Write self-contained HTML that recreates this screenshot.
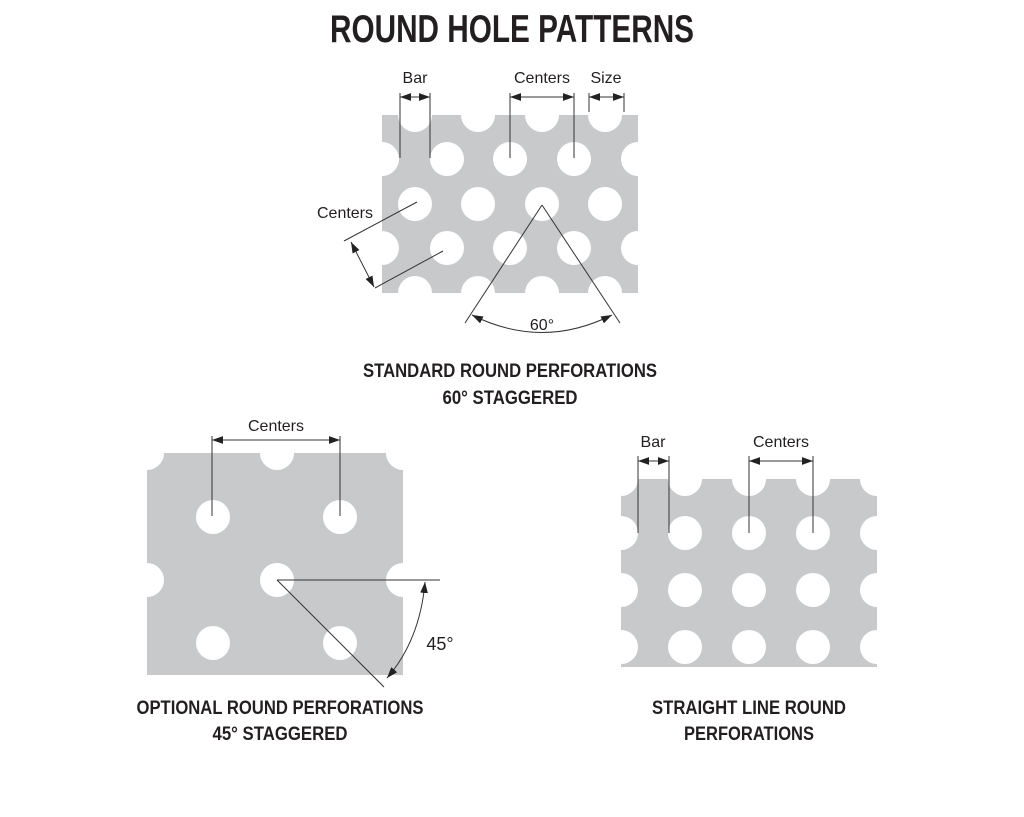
<!DOCTYPE html>
<html><head><meta charset="utf-8"><style>html,body{margin:0;padding:0;background:#fff}svg{display:block}</style></head>
<body>
<svg width="1024" height="817" viewBox="0 0 1024 817" xmlns="http://www.w3.org/2000/svg">
<defs>
<marker id="a" viewBox="0 0 10 10" refX="10" refY="5" markerWidth="11" markerHeight="11" markerUnits="userSpaceOnUse" orient="auto-start-reverse"><path d="M0,1.5 L10,5 L0,8.5 z" fill="#222"/></marker>
<clipPath id="c1"><rect x="382" y="115" width="256" height="178"/></clipPath>
<clipPath id="c2"><rect x="147" y="453" width="256" height="222"/></clipPath>
<clipPath id="c3"><rect x="621" y="479" width="256" height="188"/></clipPath>
</defs>
<g font-family="'Liberation Sans Narrow','Liberation Sans',sans-serif" font-weight="bold" fill="#231f20" text-anchor="middle">
<text x="512" y="42" font-size="39" textLength="364" lengthAdjust="spacingAndGlyphs">ROUND HOLE PATTERNS</text>
<text x="510" y="377" font-size="19" textLength="294" lengthAdjust="spacingAndGlyphs">STANDARD ROUND PERFORATIONS</text>
<text x="510" y="404" font-size="19" textLength="135" lengthAdjust="spacingAndGlyphs">60° STAGGERED</text>
<text x="280" y="714" font-size="19" textLength="287" lengthAdjust="spacingAndGlyphs">OPTIONAL ROUND PERFORATIONS</text>
<text x="280" y="740" font-size="19" textLength="135" lengthAdjust="spacingAndGlyphs">45° STAGGERED</text>
<text x="749" y="714" font-size="19" textLength="194" lengthAdjust="spacingAndGlyphs">STRAIGHT LINE ROUND</text>
<text x="749" y="740" font-size="19" textLength="130" lengthAdjust="spacingAndGlyphs">PERFORATIONS</text>
</g>
<g clip-path="url(#c1)">
<rect x="382" y="115" width="256" height="178" fill="#c8c9cb"/>
<g fill="#fff">
<circle cx="415" cy="115" r="17"/><circle cx="478" cy="115" r="17"/><circle cx="542" cy="115" r="17"/><circle cx="605" cy="115" r="17"/>
<circle cx="382" cy="159" r="17"/><circle cx="447" cy="159" r="17"/><circle cx="510" cy="159" r="17"/><circle cx="574" cy="159" r="17"/><circle cx="638" cy="159" r="17"/>
<circle cx="415" cy="204" r="17"/><circle cx="478" cy="204" r="17"/><circle cx="542" cy="204" r="17"/><circle cx="605" cy="204" r="17"/>
<circle cx="382" cy="248" r="17"/><circle cx="447" cy="248" r="17"/><circle cx="510" cy="248" r="17"/><circle cx="574" cy="248" r="17"/><circle cx="638" cy="248" r="17"/>
<circle cx="415" cy="293" r="17"/><circle cx="478" cy="293" r="17"/><circle cx="542" cy="293" r="17"/><circle cx="605" cy="293" r="17"/>
</g></g>
<g clip-path="url(#c2)">
<rect x="147" y="453" width="256" height="222" fill="#c8c9cb"/>
<g fill="#fff">
<circle cx="147" cy="453" r="17"/><circle cx="277" cy="453" r="17"/><circle cx="403" cy="453" r="17"/>
<circle cx="213" cy="517" r="17"/><circle cx="340" cy="517" r="17"/>
<circle cx="147" cy="580" r="17"/><circle cx="277" cy="580" r="17"/><circle cx="403" cy="580" r="17"/>
<circle cx="213" cy="643" r="17"/><circle cx="340" cy="643" r="17"/>
</g></g>
<g clip-path="url(#c3)">
<rect x="621" y="479" width="256" height="188" fill="#c8c9cb"/>
<g fill="#fff">
<circle cx="621" cy="479" r="17"/><circle cx="685" cy="479" r="17"/><circle cx="749" cy="479" r="17"/><circle cx="813" cy="479" r="17"/><circle cx="877" cy="479" r="17"/>
<circle cx="621" cy="533" r="17"/><circle cx="685" cy="533" r="17"/><circle cx="749" cy="533" r="17"/><circle cx="813" cy="533" r="17"/><circle cx="877" cy="533" r="17"/>
<circle cx="621" cy="590" r="17"/><circle cx="685" cy="590" r="17"/><circle cx="749" cy="590" r="17"/><circle cx="813" cy="590" r="17"/><circle cx="877" cy="590" r="17"/>
<circle cx="621" cy="647" r="17"/><circle cx="685" cy="647" r="17"/><circle cx="749" cy="647" r="17"/><circle cx="813" cy="647" r="17"/><circle cx="877" cy="647" r="17"/>
</g></g>
<g stroke="#333" stroke-width="1" fill="none">
<line x1="400" y1="93" x2="400" y2="158"/><line x1="430" y1="93" x2="430" y2="158"/>
<line x1="400" y1="97" x2="430" y2="97" marker-start="url(#a)" marker-end="url(#a)"/>
<line x1="510" y1="93" x2="510" y2="158"/><line x1="574" y1="93" x2="574" y2="158"/>
<line x1="510" y1="97" x2="574" y2="97" marker-start="url(#a)" marker-end="url(#a)"/>
<line x1="589" y1="93" x2="589" y2="112"/><line x1="624" y1="93" x2="624" y2="112"/>
<line x1="589" y1="97" x2="624" y2="97" marker-start="url(#a)" marker-end="url(#a)"/>
<line x1="344" y1="241" x2="417" y2="202"/><line x1="375" y1="288" x2="443" y2="251"/>
<line x1="351" y1="242" x2="374" y2="287" marker-start="url(#a)" marker-end="url(#a)"/>
<line x1="542" y1="205" x2="465" y2="323"/><line x1="542" y1="205" x2="620" y2="323"/>
<path d="M472 315 Q542 350 612 315" marker-start="url(#a)" marker-end="url(#a)"/>
<line x1="212" y1="436" x2="212" y2="516"/><line x1="340" y1="436" x2="340" y2="516"/>
<line x1="212" y1="440" x2="340" y2="440" marker-start="url(#a)" marker-end="url(#a)"/>
<line x1="277" y1="580" x2="440" y2="580"/><line x1="277" y1="580" x2="384" y2="687"/>
<path d="M425 582 Q420 640 387 678" marker-start="url(#a)" marker-end="url(#a)"/>
<line x1="638" y1="456" x2="638" y2="533"/><line x1="669" y1="456" x2="669" y2="533"/>
<line x1="638" y1="461" x2="669" y2="461" marker-start="url(#a)" marker-end="url(#a)"/>
<line x1="749" y1="456" x2="749" y2="533"/><line x1="813" y1="456" x2="813" y2="533"/>
<line x1="749" y1="461" x2="813" y2="461" marker-start="url(#a)" marker-end="url(#a)"/>
</g>
<g font-family="'Liberation Sans Narrow','Liberation Sans',sans-serif" fill="#231f20" text-anchor="middle" font-size="16">
<text x="415" y="83">Bar</text>
<text x="542" y="83">Centers</text>
<text x="606" y="83">Size</text>
<text x="345" y="218">Centers</text>
<text x="542" y="330">60°</text>
<text x="276" y="431">Centers</text>
<text x="440" y="650" font-size="18">45°</text>
<text x="653" y="447">Bar</text>
<text x="781" y="447">Centers</text>
</g>
</svg>
</body></html>
